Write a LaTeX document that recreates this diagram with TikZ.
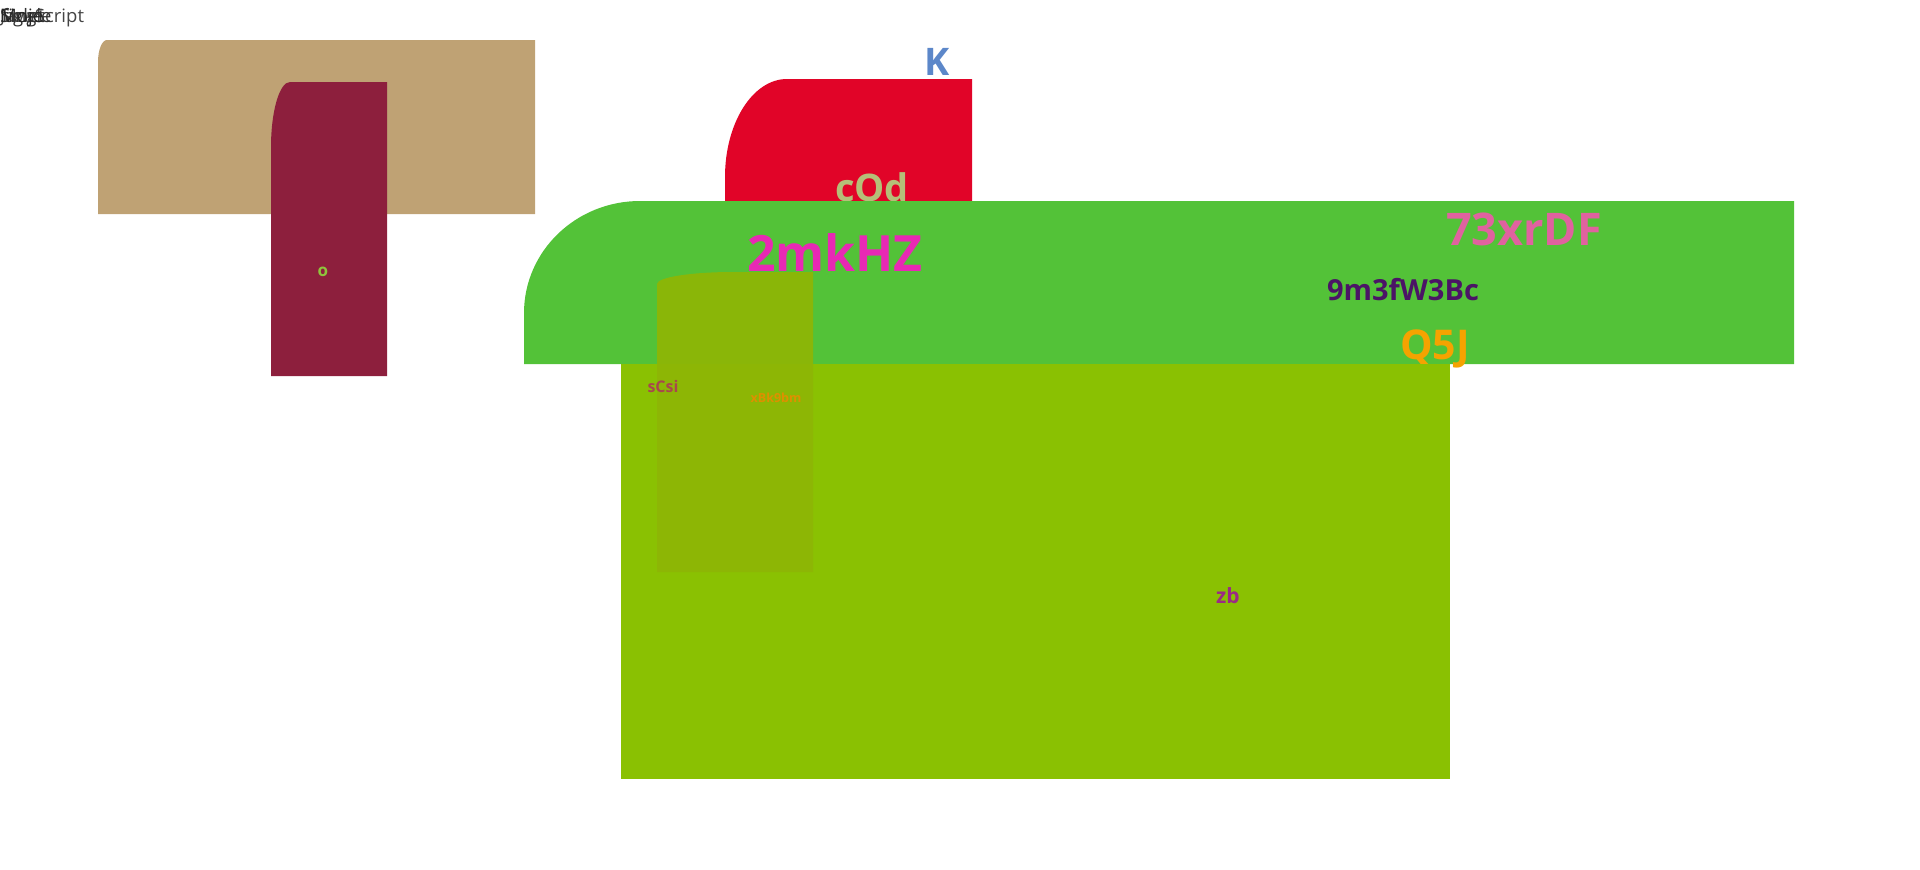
\documentclass[tikz,border=0pt]{standalone}
\usepackage{fontspec}
\setmainfont{Open Sans}
\definecolor{tanc}{HTML}{BFA274}
\definecolor{maroonc}{HTML}{8D1F3D}
\definecolor{redc}{HTML}{E10428}
\definecolor{greenc}{HTML}{53C238}
\definecolor{limec}{HTML}{8AC102}
\definecolor{olivec}{HTML}{8EB606}
\definecolor{kc}{HTML}{5C87C9}
\definecolor{codc}{HTML}{B5BF78}
\definecolor{mkc}{HTML}{E829B4}
\definecolor{xrc}{HTML}{E0629F}
\definecolor{bcc}{HTML}{4B1466}
\definecolor{qc}{HTML}{F5A300}
\definecolor{scc}{HTML}{A8474D}
\definecolor{xbc}{HTML}{DE9000}
\definecolor{zbc}{HTML}{9B2A85}
\definecolor{oc}{HTML}{8FC43C}
\definecolor{topc}{HTML}{444444}
\newcommand{\fsz}[1]{\fontsize{#1}{#1}\selectfont}
% rounded top-left corner box: x0,y0 (top-left), x1,y1 (bottom-right), rx, ry
\newcommand{\tlbox}[7]{%
  \fill[#7] (#1,#4) -- (#1,{#2+#6}) .. controls (#1,{#2+#6*0.4477}) and ({#1+#5*0.4477},#2) .. ({#1+#5},#2) -- (#3,#2) -- (#3,#4) -- cycle;}
\begin{document}
\begin{tikzpicture}[x=1pt,y=-1pt,
  lbl/.style={inner sep=0pt, font=\bfseries},
  toptxt/.style={inner sep=0pt, anchor=west, text=topc, font=\fsz{18.5}}]
\useasboundingbox (0,0) rectangle (1920,870);
% top-left overlapping texts
\node[toptxt] (t1) at (0,18) {JavaScript};
\node[toptxt, text=black!80] (t2) at (0,18) {Single};
\node[toptxt, text=black!80] (t3) at (2,18) {figlet};
\node[toptxt, text=black!85] (t4) at (0,18) {Moje};
% tan + maroon
\tlbox{98}{40}{535}{214}{9}{22}{tanc}
\tlbox{271}{82}{387}{376}{19}{65}{maroonc}
\node[lbl, text=oc, font=\bfseries\fsz{17}] (o) at (323,272) {o};
% red
\tlbox{725}{79}{972}{300}{62}{98}{redc}
\node[lbl, text=codc, font=\bfseries\fsz{38}] (cod) at (872,187) {cOd};
\node[lbl, text=kc, font=\bfseries\fsz{38}] (k) at (937,62) {K};
% green
\tlbox{524}{201}{1794}{364}{116}{112}{greenc}
\node[lbl, text=mkc, font=\bfseries\fsz{50}] (mk) at (835,253) {2mkHZ};
\node[lbl, text=xrc, font=\bfseries\fsz{45}] (xr) at (1524,229) {73xrDF};
\node[lbl, text=bcc, font=\bfseries\fsz{29}] (bc) at (1403,290) {9m3fW3Bc};
\node[lbl, text=qc, font=\bfseries\fsz{41}] (q) at (1435,349) {Q5J};
% lime
\fill[limec] (621,364) rectangle (1450,779);
% olive overlay
\tlbox{657}{272}{813}{572}{76}{12}{olivec, opacity=0.95}
\node[lbl, text=scc, font=\bfseries\fsz{16}] (sc) at (663,386) {sCsi};
\node[lbl, text=xbc, font=\bfseries\fsz{12.5}] (xb) at (776,398) {xBk9bm};
\node[lbl, text=zbc, font=\bfseries\fsz{21}] (zb) at (1228,596) {zb};
\end{tikzpicture}
\end{document}
